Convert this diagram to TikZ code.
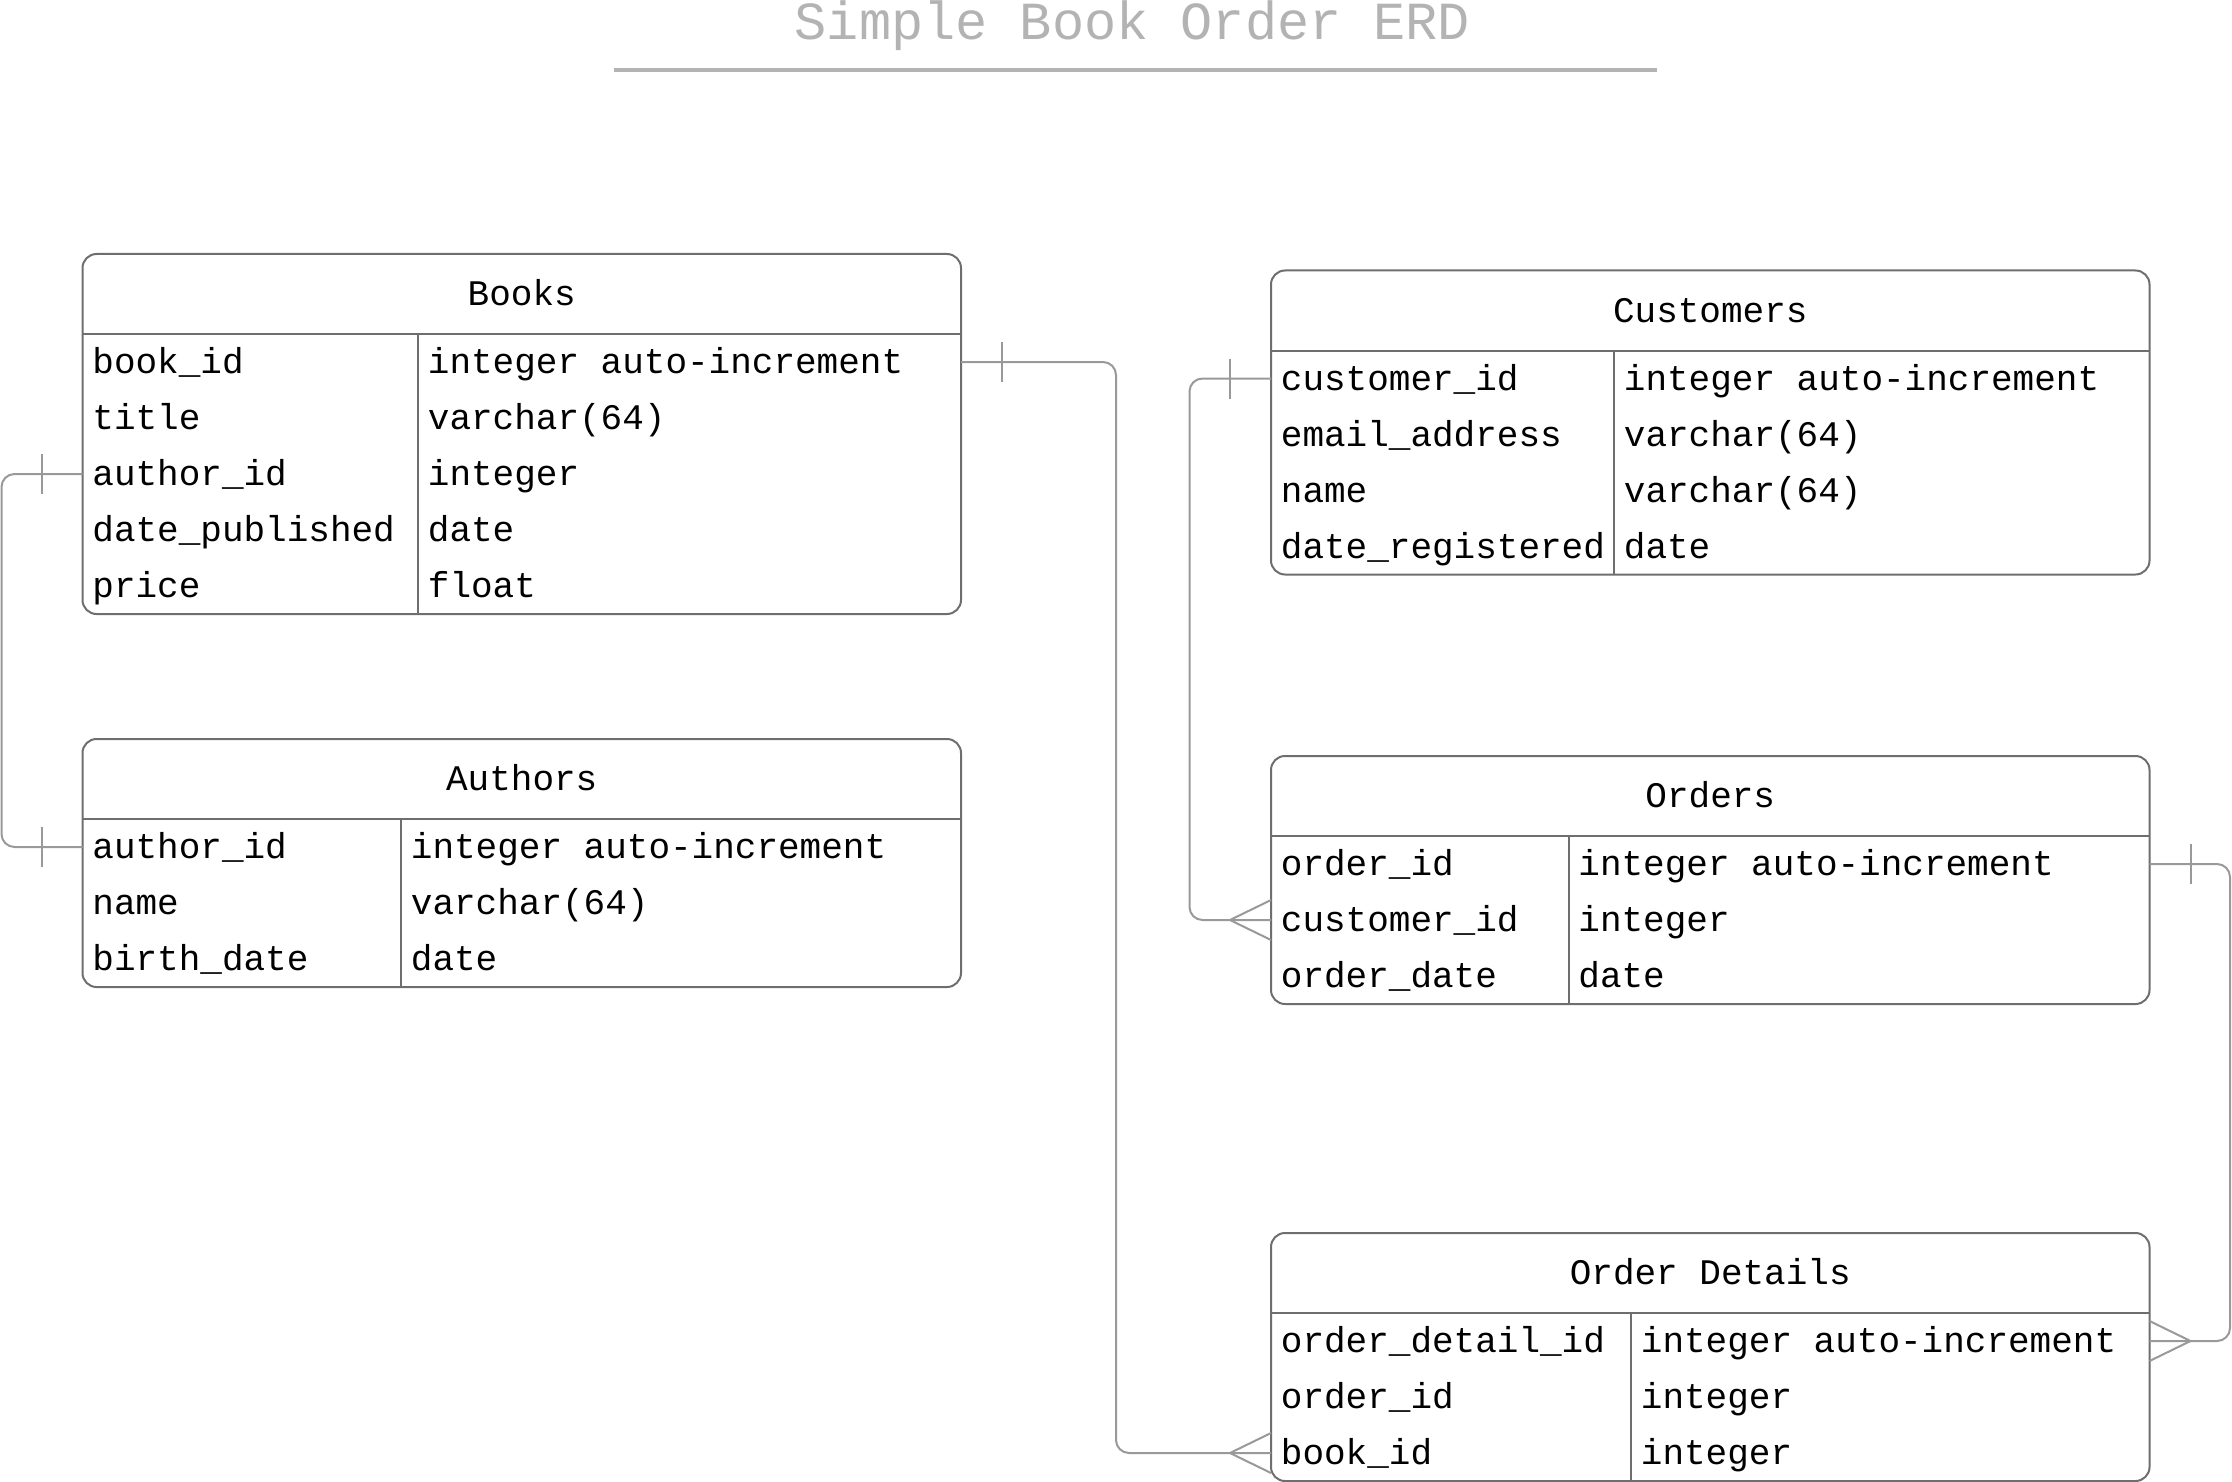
\documentclass[tikz,border=0pt]{standalone}
\usepackage{fontspec}
\setmainfont{Liberation Mono}
\usepackage{xcolor}
\definecolor{boxline}{RGB}{110, 110, 110}
\definecolor{connline}{RGB}{153, 153, 153}
\definecolor{titlegray}{RGB}{179, 179, 179}

\begin{document}
\begin{tikzpicture}[
  x=0.5pt, y=-0.5pt,
  every node/.style={font=\fontsize{18pt}{20pt}\selectfont},
  tbl/.style={draw=boxline, line width=1pt, rounded corners=7pt, anchor=north west,
              inner sep=0pt, outer sep=0pt, minimum width=439.25pt},
  hdr/.style={inner sep=0pt, text height=14pt, text depth=2.5pt},
  fld/.style={anchor=west, inner xsep=4.75pt, inner ysep=0pt, text height=14pt, text depth=2.5pt},
  rule/.style={draw=boxline, line width=1pt},
  conn/.style={draw=connline, line width=1pt, rounded corners=6.5pt},
  endbar/.style={draw=connline, line width=1pt}
]
\useasboundingbox (0,0) rectangle (2232,1482);

% Title
\node[font=\fontsize{26.8pt}{30pt}\selectfont, text=titlegray, anchor=base] (title) at (1132.5, 40)
  {Simple Book Order ERD};
\draw[draw=titlegray, line width=2pt] (614,70) -- (1657,70);

% Books
\node[tbl, minimum height=180pt] (books) at (82.5,254) {};
\node[hdr] (books-h) at (521.75,294) {Books};
\draw[rule] (82.5,334) -- (961,334);
\draw[rule] (418,334) -- (418,614);
\foreach \f/\t [count=\i] in {book\_id/integer auto-increment,
    title/varchar(64),
    author\_id/integer,
    date\_published/date,
    price/float}{
  \node[fld] (books-f\i) at (82.5,{362+56*(\i-1)}) {\f};
  \node[fld] (books-t\i) at (418,{362+56*(\i-1)}) {\t};
}

% Authors
\node[tbl, minimum height=124pt] (authors) at (82.5,739) {};
\node[hdr] (authors-h) at (521.75,779) {Authors};
\draw[rule] (82.5,819) -- (961,819);
\draw[rule] (401,819) -- (401,987);
\foreach \f/\t [count=\i] in {author\_id/integer auto-increment,
    name/varchar(64),
    birth\_date/date}{
  \node[fld] (authors-f\i) at (82.5,{847+56*(\i-1)}) {\f};
  \node[fld] (authors-t\i) at (401,{847+56*(\i-1)}) {\t};
}

% Customers
\node[tbl, minimum height=152pt] (customers) at (1271,270.5) {};
\node[hdr] (customers-h) at (1710.25,310.5) {Customers};
\draw[rule] (1271,350.5) -- (2149.5,350.5);
\draw[rule] (1614,350.5) -- (1614,574.5);
\foreach \f/\t [count=\i] in {customer\_id/integer auto-increment,
    email\_address/varchar(64),
    name/varchar(64),
    date\_registered/date}{
  \node[fld] (customers-f\i) at (1271,{378.5+56*(\i-1)}) {\f};
  \node[fld] (customers-t\i) at (1614,{378.5+56*(\i-1)}) {\t};
}

% Orders
\node[tbl, minimum height=124pt] (orders) at (1271,756) {};
\node[hdr] (orders-h) at (1710.25,796) {Orders};
\draw[rule] (1271,836) -- (2149.5,836);
\draw[rule] (1568.5,836) -- (1568.5,1004);
\foreach \f/\t [count=\i] in {order\_id/integer auto-increment,
    customer\_id/integer,
    order\_date/date}{
  \node[fld] (orders-f\i) at (1271,{864+56*(\i-1)}) {\f};
  \node[fld] (orders-t\i) at (1568.5,{864+56*(\i-1)}) {\t};
}

% Order Details
\node[tbl, minimum height=124pt] (details) at (1271,1233) {};
\node[hdr] (details-h) at (1710.25,1273) {Order Details};
\draw[rule] (1271,1313) -- (2149.5,1313);
\draw[rule] (1631,1313) -- (1631,1481);
\foreach \f/\t [count=\i] in {order\_detail\_id/integer auto-increment,
    order\_id/integer,
    book\_id/integer}{
  \node[fld] (details-f\i) at (1271,{1341+56*(\i-1)}) {\f};
  \node[fld] (details-t\i) at (1631,{1341+56*(\i-1)}) {\t};
}

% Relationship ends on the table borders
\coordinate (ba) at (books.west |- books-f3);
\coordinate (aa) at (authors.west |- authors-f1);
\coordinate (bb) at (books.east |- books-f1);
\coordinate (db) at (details.west |- details-f3);
\coordinate (cc) at (customers.west |- customers-f1);
\coordinate (oc) at (orders.west |- orders-f2);
\coordinate (oo) at (orders.east |- orders-f1);
\coordinate (do) at (details.east |- details-f1);

% Books -- Authors (one to one)
\draw[conn] (ba) -- ++(-81,0) |- (aa);
\draw[endbar] ([xshift=-20.5pt,yshift=10pt]ba) -- ++(0,40);
\draw[endbar] ([xshift=-20.5pt,yshift=10pt]aa) -- ++(0,40);

% Books -- Order Details (one to many)
\draw[conn] (bb) -- ++(155,0) |- (db);
\draw[endbar] ([xshift=20.5pt,yshift=10pt]bb) -- ++(0,40);
\draw[endbar] ([yshift=10pt]db) -- ([xshift=-20.5pt]db) -- ([yshift=-10pt]db);

% Customers -- Orders (one to many)
\draw[conn] (cc) -- ++(-81.5,0) |- (oc);
\draw[endbar] ([xshift=-20.5pt,yshift=10pt]cc) -- ++(0,40);
\draw[endbar] ([yshift=10pt]oc) -- ([xshift=-20.5pt]oc) -- ([yshift=-10pt]oc);

% Orders -- Order Details (one to many)
\draw[conn] (oo) -- ++(80.5,0) |- (do);
\draw[endbar] ([xshift=20.5pt,yshift=10pt]oo) -- ++(0,40);
\draw[endbar] ([yshift=10pt]do) -- ([xshift=20.5pt]do) -- ([yshift=-10pt]do);

\end{tikzpicture}
\end{document}
